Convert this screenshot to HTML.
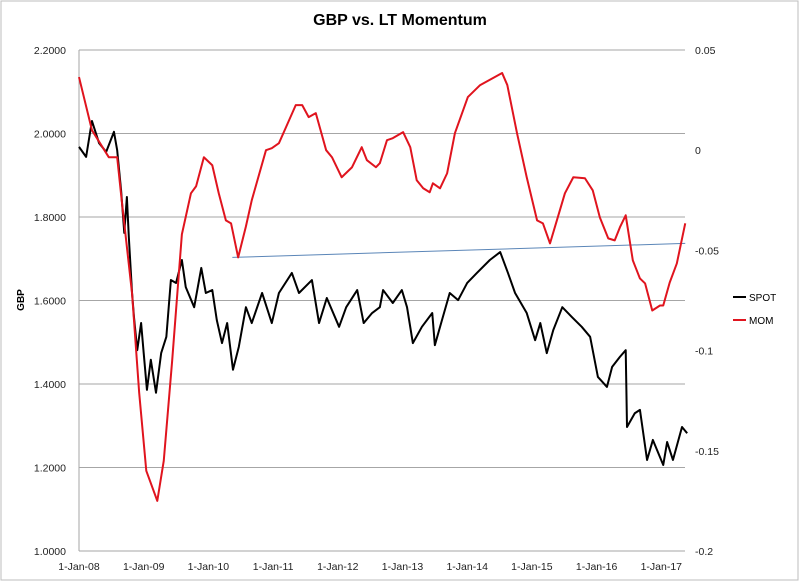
<!DOCTYPE html>
<html><head><meta charset="utf-8"><style>
html,body{margin:0;padding:0;background:#fff}
svg{display:block;font-family:"Liberation Sans",sans-serif}
</style></head><body>
<svg id="c" width="800" height="582">
<rect x="1" y="1" width="797" height="579" fill="#fff" stroke="#bdbdbd"/>
<text x="400" y="25" text-anchor="middle" font-size="16" font-weight="bold" fill="#000">GBP vs. LT Momentum</text>
<text transform="translate(24,300) rotate(-90)" text-anchor="middle" font-size="10" font-weight="bold">GBP</text>
<g id="grid"></g><g id="ticks"></g><g id="series"></g>
<g>
<line x1="733" y1="297" x2="746" y2="297" stroke="#000" stroke-width="2"/>
<text x="749" y="301" font-size="10">SPOT</text>
<line x1="733" y1="320" x2="746" y2="320" stroke="#e0141e" stroke-width="2"/>
<text x="749" y="324" font-size="10">MOM</text>
</g>
</svg>
<script>
const leftTicks=[1.0,1.2,1.4,1.6,1.8,2.0,2.2];
const rightTicks=[0.05,0,-0.05,-0.1,-0.15,-0.2];
const rightTickLabels=["0.05","0","-0.05","-0.1","-0.15","-0.2"];
const xTickYears=[0,1,2,3,4,5,6,7,8,9];
const xTickLabels=["1-Jan-08","1-Jan-09","1-Jan-10","1-Jan-11","1-Jan-12","1-Jan-13","1-Jan-14","1-Jan-15","1-Jan-16","1-Jan-17"];
const spotT=[0,.11,.20,.31,.42,.54,.59,.65,.70,.74,.77,.82,.85,.90,.96,1.00,1.05,1.11,1.19,1.27,1.35,1.42,1.50,1.59,1.65,1.78,1.89,1.96,2.06,2.13,2.21,2.29,2.38,2.47,2.58,2.67,2.83,2.98,3.09,3.29,3.40,3.60,3.71,3.83,4.02,4.13,4.30,4.40,4.53,4.65,4.70,4.85,4.99,5.07,5.16,5.30,5.46,5.50,5.61,5.73,5.86,6.00,6.15,6.35,6.51,6.63,6.74,6.92,7.05,7.13,7.23,7.33,7.47,7.62,7.77,7.90,8.02,8.16,8.24,8.36,8.45,8.47,8.59,8.67,8.78,8.87,9.03,9.09,9.18,9.32,9.40];
const spotV=[1.968,1.944,2.03,1.977,1.956,2.004,1.96,1.865,1.762,1.848,1.752,1.618,1.56,1.481,1.546,1.474,1.386,1.458,1.379,1.474,1.513,1.649,1.642,1.697,1.632,1.584,1.678,1.618,1.625,1.553,1.498,1.546,1.434,1.489,1.584,1.546,1.618,1.546,1.618,1.666,1.618,1.649,1.546,1.606,1.537,1.584,1.625,1.546,1.57,1.584,1.625,1.594,1.625,1.584,1.498,1.537,1.57,1.493,1.553,1.618,1.601,1.642,1.666,1.697,1.716,1.666,1.618,1.57,1.505,1.546,1.474,1.529,1.584,1.56,1.537,1.513,1.417,1.393,1.441,1.465,1.481,1.297,1.33,1.338,1.218,1.266,1.206,1.261,1.218,1.297,1.282];
const momT=[0,.20,.46,.59,.66,.82,.93,1.04,1.21,1.31,1.44,1.59,1.73,1.81,1.93,2.06,2.16,2.27,2.35,2.46,2.58,2.67,2.89,2.98,3.09,3.20,3.35,3.45,3.55,3.66,3.82,3.91,4.06,4.22,4.37,4.45,4.59,4.65,4.76,4.85,5.01,5.12,5.22,5.32,5.42,5.47,5.58,5.69,5.81,6.01,6.20,6.40,6.54,6.62,6.77,6.92,7.08,7.17,7.28,7.40,7.51,7.64,7.82,7.94,8.05,8.18,8.28,8.36,8.45,8.56,8.67,8.75,8.86,8.98,9.03,9.13,9.24,9.37];
const momV=[.0365,.010,-.0035,-.0035,-.025,-.0715,-.121,-.16,-.175,-.155,-.105,-.042,-.0215,-.018,-.0035,-.0075,-.0215,-.035,-.0365,-.0535,-.038,-.025,0,.001,.0035,.0115,.0225,.0225,.0165,.0185,0,-.0035,-.0135,-.0085,.0015,-.005,-.0085,-.0065,.005,.006,.009,.0015,-.015,-.019,-.021,-.0165,-.019,-.0115,.0085,.0265,.0325,.036,.0385,.0325,.0085,-.0135,-.035,-.0365,-.0465,-.0335,-.0215,-.0135,-.014,-.02,-.0335,-.044,-.045,-.0385,-.0325,-.055,-.064,-.0665,-.08,-.0775,-.0775,-.066,-.0565,-.0365];
const trendT=[2.37,9.37];
const trendV=[-.0535,-.0465];

const NS="http://www.w3.org/2000/svg";
const X0=79,X1=685,Y0=50,Y1=551;
const xs=t=>X0+t*64.7;
const yL=v=>Y0+(2.2-v)/1.2*(Y1-Y0);
const yR=v=>Y0+(0.05-v)/0.25*(Y1-Y0);
function mk(tag,attrs,parent){const e=document.createElementNS(NS,tag);for(const k in attrs)e.setAttribute(k,attrs[k]);parent.appendChild(e);return e;}
const grid=document.getElementById('grid'),ticks=document.getElementById('ticks'),ser=document.getElementById('series');
mk('line',{x1:X0,y1:Y0,x2:X0,y2:Y1,stroke:'#a6a6a6'},grid);
leftTicks.forEach((v,i)=>{
 const l=mk('line',{x1:X0,x2:X1,y1:yL(v),y2:yL(v),stroke:'#a6a6a6'},grid);
 
 
 const t=mk('text',{x:66,y:yL(v)+4,'text-anchor':'end','font-size':10.5,fill:'#222'},ticks);
 t.textContent=v.toFixed(4);
 
 
});
rightTicks.forEach((v,i)=>{
 const t=mk('text',{x:695,y:yR(v)+4,'font-size':10.5,fill:'#222'},ticks);
 t.textContent=rightTickLabels[i];
 
 
});
xTickYears.forEach((yv,i)=>{
 const t=mk('text',{x:xs(yv),y:570,'text-anchor':'middle','font-size':10.5,fill:'#222'},ticks);
 t.textContent=xTickLabels[i];
 
 
});
const tr=mk('line',{x1:xs(trendT[0]),y1:yR(trendV[0]),x2:xs(trendT[1]),y2:yR(trendV[1]),stroke:'#5b86b8','stroke-width':1},ser);


const sp=mk('polyline',{points:spotT.map((t,i)=>xs(t)+','+yL(spotV[i])).join(' '),fill:'none',stroke:'#000','stroke-width':2,'stroke-linejoin':'round'},ser);


const mo=mk('polyline',{points:momT.map((t,i)=>xs(t)+','+yR(momV[i])).join(' '),fill:'none',stroke:'#e0141e','stroke-width':2,'stroke-linejoin':'round'},ser);


</script>
</body></html>
